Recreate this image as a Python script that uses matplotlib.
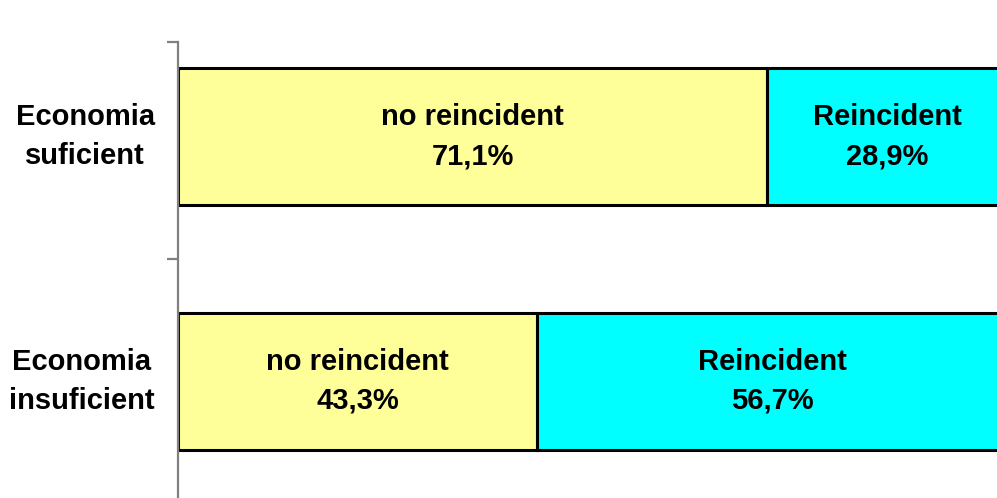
import matplotlib.pyplot as plt

categories = ['Economia\nsuficient', 'Economia\ninsuficient']
no_reinc = [71.1, 43.3]
reinc = [28.9, 56.7]
seg_names = ['no reincident', 'Reincident']
colors = ['#FFFF99', '#00FFFF']

plt.rcParams['font.family'] = ['Liberation Sans', 'DejaVu Sans']

fig = plt.figure(figsize=(9.97, 4.98), dpi=100)
ax = fig.add_axes([0.1785, -0.012, 0.8315, 0.9277])

y = list(range(len(categories)))
h = 0.56
ax.barh(y, no_reinc, height=h, color=colors[0], edgecolor='black', linewidth=2.2)
ax.barh(y, reinc, left=no_reinc, height=h, color=colors[1], edgecolor='black', linewidth=2.2)

for i in y:
    for name, start, val in [(seg_names[0], 0, no_reinc[i]), (seg_names[1], no_reinc[i], reinc[i])]:
        txt = f"{name}\n{val:.1f}%".replace('.', ',')
        ax.text(start + val / 2, i, txt, ha='center', va='center',
                fontsize=21, fontweight='bold', linespacing=1.5)
    ax.text(-2.8, i, categories[i], ha='right', va='center', fontsize=21,
            fontweight='bold', linespacing=1.5, multialignment='center')

ax.set_xlim(0, 100)
ax.set_ylim(1.5, -0.386)
ax.set_yticks([-0.386, 0.5])
ax.set_yticklabels([])
ax.tick_params(axis='y', length=8, width=1.6, color='#808080')
ax.set_xticks([])
for s in ['top', 'right', 'bottom']:
    ax.spines[s].set_visible(False)
ax.spines['left'].set_color('#808080')
ax.spines['left'].set_linewidth(1.6)

fig.savefig('out.png', dpi=100)
